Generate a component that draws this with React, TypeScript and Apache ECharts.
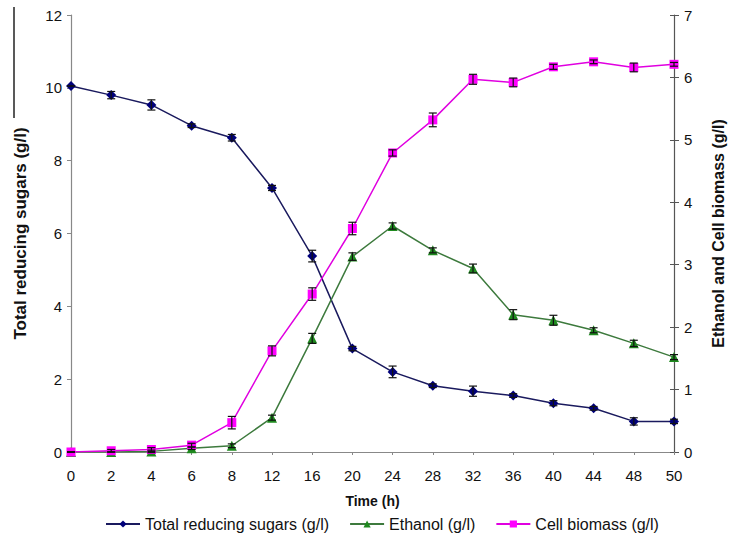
import React, { useEffect, useRef } from "react";
import * as echarts from "echarts";

// Sampling times (h)
const times = ["0", "2", "4", "6", "8", "12", "16", "20", "24", "28", "32", "36", "40", "44", "48", "50"];

// Total reducing sugars (g/l), left axis
const sugars = [10.05, 9.8, 9.53, 8.96, 8.63, 7.25, 5.38, 2.84, 2.2, 1.82, 1.67, 1.55, 1.34, 1.2, 0.84, 0.84];
const sugarsErr = [0, 0.1, 0.14, 0.05, 0.09, 0.07, 0.16, 0.06, 0.16, 0.05, 0.14, 0.05, 0.07, 0.05, 0.1, 0.06];

// Ethanol (g/l), right axis
const ethanol = [0, 0, 0.01, 0.06, 0.1, 0.55, 1.82, 3.13, 3.62, 3.23, 2.94, 2.2, 2.11, 1.95, 1.74, 1.52];
const ethanolErr = [0, 0, 0.02, 0.02, 0.03, 0.04, 0.08, 0.06, 0.05, 0.04, 0.07, 0.08, 0.08, 0.04, 0.05, 0.04];

// Cell biomass (g/l), right axis
const biomass = [0, 0.02, 0.04, 0.11, 0.47, 1.62, 2.53, 3.58, 4.79, 5.32, 5.97, 5.92, 6.17, 6.25, 6.16, 6.21];
const biomassErr = [0, 0.02, 0.03, 0.03, 0.1, 0.08, 0.1, 0.1, 0.05, 0.11, 0.08, 0.07, 0.04, 0.03, 0.07, 0.03];

const FONT = "'Liberation Sans', Arial, sans-serif";

function errorSeries(values: number[], errs: number[], yAxisIndex: number) {
  return {
    type: "custom",
    yAxisIndex,
    silent: true,
    z: 5,
    data: values.map((v, i) => [i, v - errs[i], v + errs[i]]),
    renderItem: (_params: any, api: any) => {
      const i = api.value(0);
      const lo = api.coord([i, api.value(1)]);
      const hi = api.coord([i, api.value(2)]);
      const half = 4;
      const style = { stroke: "#111", lineWidth: 1.2 };
      return {
        type: "group",
        children: [
          { type: "line", shape: { x1: lo[0], y1: lo[1], x2: hi[0], y2: hi[1] }, style },
          { type: "line", shape: { x1: hi[0] - half, y1: hi[1], x2: hi[0] + half, y2: hi[1] }, style },
          { type: "line", shape: { x1: lo[0] - half, y1: lo[1], x2: lo[0] + half, y2: lo[1] }, style },
        ],
      };
    },
  };
}

export default function App() {
  const ref = useRef<HTMLDivElement>(null);

  useEffect(() => {
    if (!ref.current) return;
    const chart = echarts.init(ref.current, null, { renderer: "svg" });
    chart.setOption({
      animation: false,
      backgroundColor: "#ffffff",
      textStyle: { fontFamily: FONT },
      grid: { left: 71, right: 56, top: 15, bottom: 100, outerBoundsMode: "none", containLabel: false },
      legend: {
        top: 511,
        left: 100,
        itemWidth: 34,
        itemHeight: 9,
        itemGap: 20,
        textStyle: { fontFamily: FONT, fontSize: 16, color: "#111" },
        data: ["Total reducing sugars (g/l)", "Ethanol (g/l)", "Cell biomass (g/l)"],
      },
      graphic: [
        {
          type: "line",
          shape: { x1: 14, y1: 7, x2: 14, y2: 118 },
          style: { stroke: "#222", lineWidth: 1.5 },
        },
      ],
      xAxis: {
        type: "category",
        data: times,
        boundaryGap: false,
        name: "Time (h)",
        nameLocation: "middle",
        nameGap: 42,
        nameTextStyle: { fontFamily: FONT, fontSize: 14, fontWeight: "bold", color: "#111" },
        axisLine: { lineStyle: { color: "#888", width: 1.2 } },
        axisTick: { alignWithLabel: true, length: 3, lineStyle: { color: "#888" } },
        axisLabel: { fontFamily: FONT, fontSize: 15, color: "#111", margin: 16 },
      },
      yAxis: [
        {
          type: "value",
          min: 0,
          max: 12,
          interval: 2,
          name: "Total reducing sugars (g/l)",
          nameLocation: "middle",
          nameGap: 42,
          nameTextStyle: { fontFamily: FONT, fontSize: 17, fontWeight: "bold", color: "#111" },
          axisLine: { show: true, lineStyle: { color: "#888", width: 1.2 } },
          axisTick: { show: true, length: 4, lineStyle: { color: "#888" } },
          axisLabel: { fontFamily: FONT, fontSize: 15, color: "#111", margin: 9 },
          splitLine: { show: false },
        },
        {
          type: "value",
          min: 0,
          max: 7,
          interval: 1,
          position: "right",
          name: "Ethanol and Cell biomass (g/l)",
          nameLocation: "middle",
          nameGap: 36,
          nameRotate: 90,
          nameTextStyle: { fontFamily: FONT, fontSize: 16, fontWeight: "bold", color: "#111" },
          axisLine: { show: true, lineStyle: { color: "#555", width: 1.2 } },
          axisTick: { show: true, length: 5, lineStyle: { color: "#555" } },
          axisLabel: { fontFamily: FONT, fontSize: 15, color: "#111", margin: 10 },
          splitLine: { show: false },
        },
        {
          // inner half of the crossing ticks on the right-hand axis
          type: "value",
          min: 0,
          max: 7,
          interval: 1,
          position: "right",
          axisLine: { show: false },
          axisTick: { show: true, inside: true, length: 4, lineStyle: { color: "#555" } },
          axisLabel: { show: false },
          splitLine: { show: false },
        },
      ],
      series: [
        {
          name: "Total reducing sugars (g/l)",
          type: "line",
          yAxisIndex: 0,
          data: sugars,
          symbol: "diamond",
          symbolSize: 10,
          itemStyle: { color: "#00007a" },
          lineStyle: { color: "#1a1a5e", width: 1.5 },
          z: 3,
        },
        {
          name: "Ethanol (g/l)",
          type: "line",
          yAxisIndex: 1,
          data: ethanol,
          symbol: "triangle",
          symbolSize: 10,
          itemStyle: { color: "#1f8a1f" },
          lineStyle: { color: "#3d7a3d", width: 1.5 },
          z: 3,
        },
        {
          name: "Cell biomass (g/l)",
          type: "line",
          yAxisIndex: 1,
          data: biomass,
          symbol: "rect",
          symbolSize: 9,
          itemStyle: { color: "#ff00ff" },
          lineStyle: { color: "#e000e0", width: 1.5 },
          z: 3,
        },
        errorSeries(sugars, sugarsErr, 0),
        errorSeries(ethanol, ethanolErr, 1),
        errorSeries(biomass, biomassErr, 1),
      ],
    });
    return () => chart.dispose();
  }, []);

  return (
    <div
      ref={ref}
      style={{ position: "fixed", left: 0, top: 0, width: 730, height: 552 }}
    />
  );
}
